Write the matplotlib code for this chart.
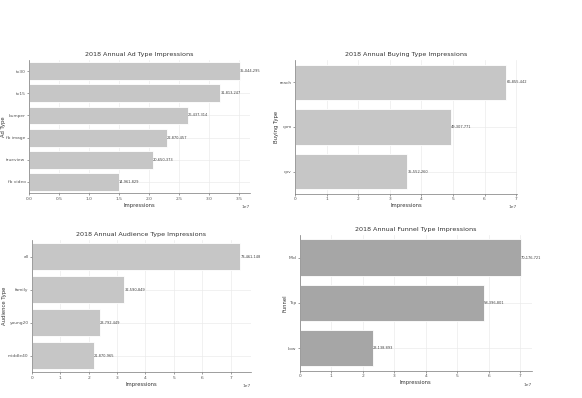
import matplotlib
matplotlib.use("Agg")
import matplotlib.pyplot as plt

# 広告タイプ別インプレッション
ad_types = ["fb video", "trueview", "fb image", "bumper", "tv15", "tv30"]
ad_values = [14961829, 20650373, 22870457, 26437314, 31813247, 35044295]

# 購入タイプ別
buying_types = ["cpv", "cpm", "reach"]
buying_values = [35552260, 49307771, 66855442]

# オーディエンス別
audience_types = ["middle40", "young20", "family", "all"]
audience_values = [21870965, 23792449, 32590849, 73461148]

# ファネル別
funnel_types = ["Low", "Top", "Mid"]
funnel_values = [23138893, 58396801, 70176721]

plt.rcParams["font.family"] = ["DejaVu Sans"]
fig = plt.figure(figsize=(5.82, 3.98), dpi=100)

panels = [
    ([0.050, 0.515, 0.380, 0.334], ad_types, ad_values, "Ad Type",
     "2018 Annual Ad Type Impressions", "#c6c6c6"),
    ([0.507, 0.513, 0.381, 0.336], buying_types, buying_values, "Buying Type",
     "2018 Annual Buying Type Impressions", "#c6c6c6"),
    ([0.055, 0.065, 0.376, 0.332], audience_types, audience_values, "Audience Type",
     "2018 Annual Audience Type Impressions", "#c6c6c6"),
    ([0.515, 0.068, 0.399, 0.342], funnel_types, funnel_values, "Funnel",
     "2018 Annual Funnel Type Impressions", "#a6a6a6"),
]

for rect, cats, vals, ylabel, title, color in panels:
    ax = fig.add_axes(rect)
    ax.set_axisbelow(True)
    ax.grid(True, color="#ebebeb", linewidth=0.5)
    ax.barh(cats, vals, height=0.8, color=color, edgecolor="white", linewidth=0.6)
    for i, v in enumerate(vals):
        ax.text(v, i, f"{v:,}", va="center", ha="left", fontsize=2.6, color="#444444")
    ax.set_xlim(0, max(vals) * 1.05)
    ax.set_ylim(-0.5, len(cats) - 0.5)
    ax.set_title(title, fontsize=4.6, color="#333333", pad=3)
    ax.set_xlabel("Impressions", fontsize=3.8, color="#333333", labelpad=1.5)
    ax.set_ylabel(ylabel, fontsize=3.8, color="#333333", labelpad=0.5)
    ax.tick_params(labelsize=3.2, length=1.5, width=0.4, pad=1, colors="#555555")
    ax.xaxis.get_offset_text().set_fontsize(3.2)
    ax.xaxis.get_offset_text().set_color("#555555")
    for s in ["top", "right"]:
        ax.spines[s].set_visible(False)
    for s in ["left", "bottom"]:
        ax.spines[s].set_linewidth(0.5)
        ax.spines[s].set_color("#777777")

fig.savefig("out.png", dpi=100)
